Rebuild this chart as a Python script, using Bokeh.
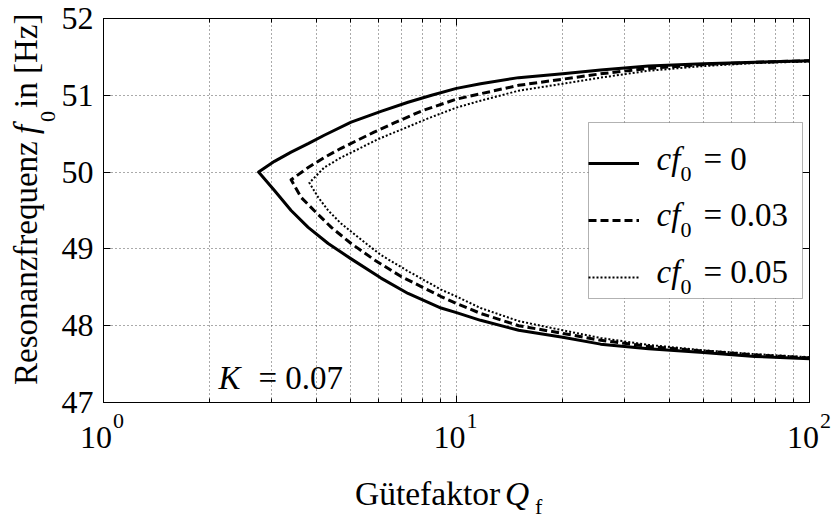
from bokeh.plotting import figure
from bokeh.layouts import row, column
from bokeh.models import (Range1d, FixedTicker, LogAxis, LinearAxis, Label,
                          Legend, LegendItem, BoxAnnotation, Div)
from bokeh.embed import file_html
from bokeh.resources import INLINE

# Resonance frequency branches vs. quality factor, coupling K = 0.07
# c*f0 = 0
q_a_up = [2.75, 3.05, 3.40, 3.80, 4.22, 5.03, 6.11, 7.29, 8.5, 10.0, 11.7, 15.0, 20.0, 25.6, 35.0, 50.0, 70.0, 100.0]
f_a_up = [50.00, 50.14, 50.26, 50.37, 50.48, 50.65, 50.79, 50.91, 51.00, 51.09, 51.15, 51.23, 51.28, 51.33, 51.38, 51.41, 51.43, 51.45]
q_a_lo = [2.75, 3.05, 3.40, 3.80, 4.33, 5.03, 6.11, 7.29, 9.04, 10.0, 11.7, 15.0, 20.0, 25.6, 35.0, 50.0, 70.0, 100.0]
f_a_lo = [50.00, 49.76, 49.50, 49.28, 49.07, 48.87, 48.62, 48.42, 48.23, 48.17, 48.07, 47.94, 47.85, 47.76, 47.70, 47.65, 47.60, 47.57]

# c*f0 = 0.03
q_b_up = [3.40, 3.80, 4.22, 4.71, 5.27, 5.84, 6.66, 8.0, 10.0, 11.7, 15.0, 20.0, 25.6, 35.0, 50.0, 70.0, 100.0]
f_b_up = [49.90, 50.06, 50.19, 50.31, 50.42, 50.52, 50.64, 50.80, 50.95, 51.02, 51.13, 51.21, 51.28, 51.35, 51.40, 51.43, 51.45]
q_b_lo = [3.40, 3.63, 3.95, 4.42, 5.03, 5.84, 6.97, 9.04, 10.0, 11.7, 15.0, 20.0, 25.6, 35.0, 50.0, 70.0, 100.0]
f_b_lo = [49.90, 49.67, 49.50, 49.28, 49.07, 48.86, 48.64, 48.38, 48.29, 48.16, 48.00, 47.90, 47.81, 47.73, 47.67, 47.62, 47.58]

# c*f0 = 0.05
q_c_up = [3.83, 4.22, 4.71, 5.27, 6.00, 7.29, 8.31, 10.0, 11.7, 15.0, 20.0, 25.6, 35.0, 50.0, 70.0, 100.0]
f_c_up = [49.86, 50.06, 50.19, 50.30, 50.43, 50.59, 50.70, 50.84, 50.93, 51.06, 51.15, 51.23, 51.32, 51.38, 51.42, 51.44]
q_c_lo = [3.83, 4.06, 4.33, 4.71, 5.27, 5.84, 6.11, 7.29, 9.04, 10.0, 11.7, 15.0, 20.0, 25.6, 35.0, 50.0, 70.0, 100.0]
f_c_lo = [49.86, 49.67, 49.50, 49.33, 49.15, 48.99, 48.92, 48.71, 48.47, 48.38, 48.23, 48.06, 47.94, 47.84, 47.75, 47.68, 47.63, 47.59]

legend_values = ["0", "0.03", "0.05"]
x_major = [1, 10, 100]
x_exponents = ["0", "1", "2"]
x_minor = [2, 3, 4, 5, 6, 7, 8, 9, 20, 30, 40, 50, 60, 70, 80, 90]
y_ticks = [47, 48, 49, 50, 51, 52]

FONT = "Liberation Serif"
GRID = "#555555"

# page geometry (canvas pixels)
W, H = 833, 518
LEFT_W = 58                      # strip holding the rotated y title
FRAME_L, FRAME_R = 102, 809
FRAME_T, FRAME_B = 18, 402
MAIN_H = 420

# ---------------- main plot ----------------
p = figure(width=W - LEFT_W, height=MAIN_H, x_axis_type="log",
           x_range=Range1d(1, 100), y_range=Range1d(47, 52),
           output_backend="svg", toolbar_location=None,
           min_border_left=FRAME_L - LEFT_W, min_border_right=W - FRAME_R,
           min_border_top=FRAME_T, min_border_bottom=MAIN_H - FRAME_B)
p.background_fill_color = "white"
p.border_fill_color = "white"
p.outline_line_color = "black"
p.outline_line_width = 1

xt = FixedTicker(ticks=x_major, minor_ticks=x_minor)
yt = FixedTicker(ticks=y_ticks, minor_ticks=[])
p.xaxis.ticker = xt
p.yaxis.ticker = yt

def style_axis(ax, show_labels):
    ax.axis_line_color = "black"
    ax.major_tick_in = 7
    ax.major_tick_out = 0
    ax.minor_tick_in = 4
    ax.minor_tick_out = 0
    ax.major_tick_line_color = "black"
    ax.minor_tick_line_color = "black"
    ax.major_label_text_font = FONT
    ax.major_label_text_color = "black"
    if show_labels:
        ax.major_label_text_font_size = "32px"
        ax.major_label_standoff = 10
    else:
        ax.major_label_text_font_size = "1px"
        ax.major_label_text_alpha = 0.0
        ax.major_label_standoff = 0

style_axis(p.xaxis[0], False)
style_axis(p.yaxis[0], True)

top_ax = LogAxis(ticker=xt)
style_axis(top_ax, False)
p.add_layout(top_ax, "above")
right_ax = LinearAxis(ticker=yt)
style_axis(right_ax, False)
p.add_layout(right_ax, "right")

for g in (p.xgrid[0], p.ygrid[0]):
    g.grid_line_color = GRID
    g.grid_line_dash = "1 3"
    g.grid_line_width = 1
p.xgrid[0].minor_grid_line_color = GRID
p.xgrid[0].minor_grid_line_dash = "1 3"

def branch_path(q_up, f_up, q_lo, f_lo):
    return list(reversed(q_lo)) + q_up[1:], list(reversed(f_lo)) + f_up[1:]

qa, fa = branch_path(q_a_up, f_a_up, q_a_lo, f_a_lo)
qb, fb = branch_path(q_b_up, f_b_up, q_b_lo, f_b_lo)
qc, fc = branch_path(q_c_up, f_c_up, q_c_lo, f_c_lo)

ra = p.line(qa, fa, line_color="black", line_width=3, line_join="round")
rb = p.line(qb, fb, line_color="black", line_width=3, line_dash="8 4", line_join="round")
rc = p.line(qc, fc, line_color="black", line_width=2, line_dash="2 2", line_join="round")

# legend: white box, library legend for the line samples, text on top
LEG_L, LEG_R, LEG_T, LEG_B = 587, 801, 122, 298
p.add_layout(BoxAnnotation(left=LEG_L - FRAME_L, right=LEG_R - FRAME_L,
                           top=FRAME_B - LEG_T, bottom=FRAME_B - LEG_B,
                           left_units="screen", right_units="screen",
                           top_units="screen", bottom_units="screen",
                           fill_color="white", fill_alpha=1.0,
                           line_color="black", line_width=1))
legend = Legend(items=[LegendItem(label="·", renderers=[r]) for r in (ra, rb, rc)],
                location=(LEG_L - FRAME_L, FRAME_B - LEG_B), orientation="vertical",
                padding=10, spacing=15, glyph_width=51, glyph_height=42,
                label_height=42, label_width=138, label_standoff=5,
                label_text_font_size="10px", label_text_alpha=0.0,
                border_line_color=None, background_fill_alpha=0.0)
p.add_layout(legend, "center")

def lab_main(text, cx, cy, size="33px", italic=False):
    p.add_layout(Label(x=cx - FRAME_L, y=FRAME_B - cy, x_units="screen", y_units="screen",
                       text=text, text_font=FONT, text_font_size=size,
                       text_font_style="italic" if italic else "normal",
                       text_color="black", text_align="left",
                       text_baseline="alphabetic"))

for i, v in enumerate(legend_values):
    base = 158 + i * 56.5
    lab_main("cf", 655, base, italic=True)
    lab_main("0", 679, base + 15, size="22px")
    lab_main("= " + v, 702, base)

lab_main("K", 217, 377, italic=True)
lab_main("= 0.07", 257, 377)

# ---------------- text strips outside the plot frame ----------------
def span(text, bx, by, size, italic=False, rotate=False, lh=1.0):
    """Text whose baseline starts at (bx, by), relative to its strip."""
    b = (lh / 2.0 + 0.3375) * size          # baseline depth inside the line box
    if rotate:
        left, top = bx - b, by
        extra = "transform-origin:0 0;transform:rotate(-90deg);"
    else:
        left, top = bx, by - b
        extra = ""
    style = ("position:absolute;left:%.1fpx;top:%.1fpx;margin:0;padding:0;"
             "font-family:'Liberation Serif';font-size:%spx;line-height:%s;"
             "white-space:nowrap;color:black;font-style:%s;%s"
             % (left, top, size, lh, "italic" if italic else "normal", extra))
    return '<span style="%s">%s</span>' % (style, text)

def strip(spans, w, h):
    html = ('<div style="position:relative;width:%dpx;height:%dpx;overflow:visible;">%s</div>'
            % (w, h, "".join(spans)))
    return Div(text=html, width=w, height=h, margin=(0, 0, 0, 0),
               styles={"overflow": "visible"})

# below the frame: decade labels and x title (strip origin = canvas (LEFT_W, MAIN_H))
def tick_px(q):
    return FRAME_L + (FRAME_R - FRAME_L) * (len(str(int(q))) - 1) / 2.0

bottom_spans = []
for q, e in zip(x_major, x_exponents):
    tx = tick_px(q) - LEFT_W
    bottom_spans.append(span("10", tx - 22, 449 - MAIN_H, 32, lh=0.8))
    bottom_spans.append(span(e, tx + 11, 428 - MAIN_H, 22, lh=0.7))
bottom_spans.append(span("Gütefaktor", 355 - LEFT_W, 506 - MAIN_H, 33.5, lh=0.8))
bottom_spans.append(span("Q", 505 - LEFT_W, 506 - MAIN_H, 33.5, italic=True, lh=0.8))
bottom_spans.append(span("f", 535 - LEFT_W, 515 - MAIN_H, 22, lh=0.75))
bottom = strip(bottom_spans, W - LEFT_W, H - MAIN_H)

# left of the frame: rotated y title (strip origin = canvas (0, 0))
left_spans = [
    span("Resonanzfrequenz", 37.5, 385, 33, rotate=True),
    span("f", 37.5, 134, 33, italic=True, rotate=True),
    span("0", 55, 122, 22, rotate=True),
    span("in [Hz]", 37.5, 108, 33, rotate=True),
]
left = strip(left_spans, LEFT_W, H)

page = row(left, column(p, bottom, spacing=0), spacing=0)
open("out.html", "w").write(file_html(page, INLINE))
